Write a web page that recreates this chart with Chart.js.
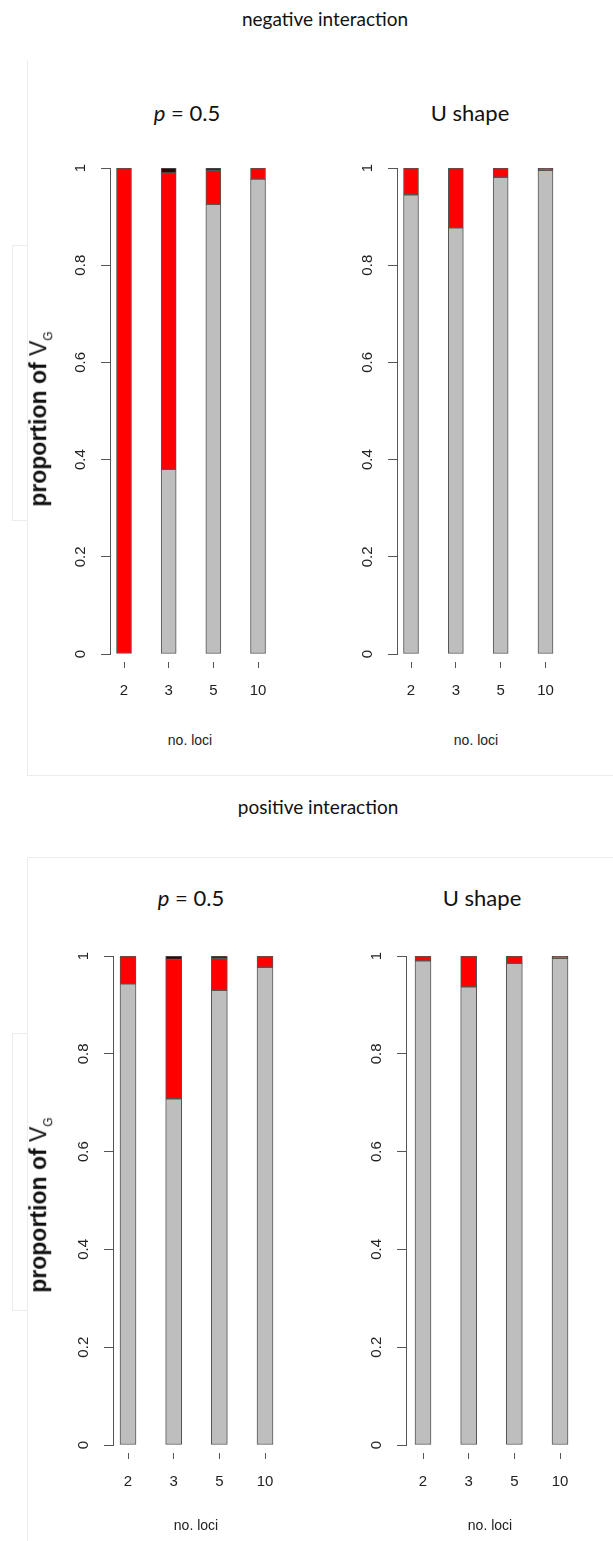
<!DOCTYPE html>
<html><head><meta charset="utf-8">
<script src="https://cdn.jsdelivr.net/npm/chart.js@4/dist/chart.umd.min.js"></script>
<style>
body{margin:0;background:#fff;width:613px;height:1541px;position:relative;overflow:hidden;font-family:"Liberation Sans",Arial,sans-serif}
.t{position:absolute;transform:translate(-50%,-50%);white-space:nowrap;color:#111;z-index:2}
.sec{font-family:Lato,"Open Sans",sans-serif;font-size:19px}
.pt{font-family:Lato,"Open Sans",sans-serif;font-size:22px}
.xl{font-size:14px;color:#222}
.yl{font-family:"Liberation Sans",Arial,sans-serif;font-size:23px;transform:translate(-50%,-50%) rotate(-90deg);color:#111}
.yl b{font-weight:bold}
.yl span{font-weight:normal}
.yl sub{font-size:12px;font-weight:normal}
canvas{position:absolute;z-index:1}
.ln{position:absolute;background:#ececec}
</style></head><body>
<div class="ln" style="left:27px;top:60px;width:1px;height:715px"></div>
<div class="ln" style="left:27px;top:775px;width:586px;height:1px"></div>
<div class="ln" style="left:12px;top:245px;width:1px;height:275px"></div>
<div class="ln" style="left:12px;top:245px;width:15px;height:1px"></div>
<div class="ln" style="left:12px;top:520px;width:15px;height:1px"></div>
<div class="ln" style="left:27px;top:857px;width:586px;height:1px"></div>
<div class="ln" style="left:27px;top:857px;width:1px;height:684px"></div>
<div class="ln" style="left:12px;top:1033px;width:1px;height:277px"></div>
<div class="ln" style="left:12px;top:1033px;width:15px;height:1px"></div>
<div class="ln" style="left:12px;top:1310px;width:15px;height:1px"></div>

<div class="t sec" style="left:325px;top:18px">negative interaction</div>
<div class="t pt" style="left:187px;top:112px"><i>p</i> = 0.5</div>
<div class="t pt" style="left:470px;top:112px">U shape</div>
<div class="t xl" style="left:190px;top:740px">no. loci</div>
<div class="t xl" style="left:476px;top:740px">no. loci</div>
<div class="t yl" style="left:40px;top:419px"><b>proportion of </b><span>V<sub>G</sub></span></div>

<div class="t sec" style="left:318px;top:806px">positive interaction</div>
<div class="t pt" style="left:191px;top:897px"><i>p</i> = 0.5</div>
<div class="t pt" style="left:482px;top:897px">U shape</div>
<div class="t xl" style="left:196px;top:1525px">no. loci</div>
<div class="t xl" style="left:490px;top:1525px">no. loci</div>
<div class="t yl" style="left:40px;top:1205px"><b>proportion of </b><span>V<sub>G</sub></span></div>

<canvas id="c1"></canvas><canvas id="c2"></canvas><canvas id="c3"></canvas><canvas id="c4"></canvas>
<script>
const categories = ['2', '3', '5', '10'];
const yTickValues = [0, 0.2, 0.4, 0.6, 0.8, 1];
const yTickLabels = ['0', '0.2', '0.4', '0.6', '0.8', '1'];

// negative interaction, p = 0.5
const negP05Grey = [0, 0.38, 0.925, 0.977];
const negP05Red  = [1.0, 0.61, 0.070, 0.023];
const negP05Dark = [0, 0.010, 0.005, 0];
// negative interaction, U shape
const negUGrey = [0.945, 0.877, 0.981, 0.995];
const negURed  = [0.055, 0.123, 0.019, 0.003];
const negUDark = [0, 0, 0, 0.002];
// positive interaction, p = 0.5
const posP05Grey = [0.943, 0.708, 0.930, 0.977];
const posP05Red  = [0.057, 0.285, 0.065, 0.023];
const posP05Dark = [0, 0.007, 0.005, 0];
// positive interaction, U shape
const posUGrey = [0.990, 0.937, 0.985, 0.995];
const posURed  = [0.010, 0.063, 0.015, 0.003];
const posUDark = [0, 0, 0, 0.002];

const FONT = '"Liberation Sans", Arial, sans-serif';

const rotYLabels = {
  id: 'rotY',
  afterDraw(chart) {
    const s = chart.scales.y, ctx = chart.ctx;
    ctx.save();
    ctx.font = '15px ' + FONT;
    ctx.fillStyle = '#222';
    ctx.textAlign = 'center';
    ctx.textBaseline = 'middle';
    s.ticks.forEach((t, i) => {
      const y = s.getPixelForValue(t.value);
      ctx.save();
      ctx.translate(s.right - 29, y);
      ctx.rotate(-Math.PI / 2);
      ctx.fillText(yTickLabels[i], 0, 0);
      ctx.restore();
    });
    ctx.restore();
  }
};

function makePanel(id, grey, red, dark, L) {
  const top = L.y1 - 20;
  const h = (L.y0 - L.y1) + 20 + 75;
  const canvas = document.getElementById(id);
  canvas.width = L.width; canvas.height = h;
  canvas.style.left = L.left + 'px'; canvas.style.top = top + 'px';
  canvas.style.width = L.width + 'px'; canvas.style.height = h + 'px';
  const xmin = 1 - (L.c1 - L.axisX) / L.sp;
  const xmax = xmin + L.W / L.sp;
  const yW = L.axisX - L.left;
  const xH = h - (L.y0 - top);
  const pts = arr => arr.map((v, i) => ({ x: i + 1, y: v }));
  new Chart(canvas, {
    type: 'bar',
    data: { datasets: [
      { data: pts(grey), backgroundColor: '#bebebe' },
      { data: pts(red), backgroundColor: '#ff0000' },
      { data: pts(dark), backgroundColor: '#3a0000' }
    ] },
    options: {
      responsive: false, animation: false,
      layout: { padding: { top: 20, left: 0, right: L.width - yW - L.W, bottom: 0 } },
      datasets: { bar: { barThickness: L.bw, borderColor: '#555', borderWidth: 1, borderSkipped: false } },
      plugins: { legend: { display: false }, tooltip: { enabled: false }, title: { display: false } },
      scales: {
        x: {
          type: 'linear', stacked: true, min: xmin, max: xmax, offset: false,
          afterBuildTicks: s => { s.ticks = categories.map((c, i) => ({ value: i + 1 })); },
          afterFit: s => { s.height = xH; },
          ticks: { callback: (v, i) => categories[i], autoSkip: false, maxRotation: 0, minRotation: 0,
                   padding: 14, font: { size: 15, family: FONT }, color: '#222' },
          grid: { offset: false, drawOnChartArea: false, drawTicks: true, tickLength: 14, tickColor: '#555', tickWidth: 1,
                  tickBorderDash: [0, 8, 6, 100] },
          border: { display: false }
        },
        y: {
          stacked: true, min: 0, max: 1,
          afterBuildTicks: s => { s.ticks = yTickValues.map(v => ({ value: v })); },
          afterFit: s => { s.width = yW; },
          ticks: { display: false },
          grid: { drawOnChartArea: false, drawTicks: true, tickLength: 9, tickColor: '#555', tickWidth: 1 },
          border: { display: true, color: '#555', width: 1 }
        }
      }
    },
    plugins: [rotYLabels]
  });
}

makePanel('c1', negP05Grey, negP05Red, negP05Dark, { left: 0, width: 300, axisX: 110, c1: 124, sp: 44.67, y1: 168, y0: 654, bw: 15, W: 165 });
makePanel('c2', negUGrey, negURed, negUDark, { left: 300, width: 313, axisX: 397, c1: 411, sp: 44.83, y1: 168, y0: 654, bw: 15, W: 168 });
makePanel('c3', posP05Grey, posP05Red, posP05Dark, { left: 0, width: 300, axisX: 113, c1: 128, sp: 45.67, y1: 956, y0: 1445, bw: 16, W: 170 });
makePanel('c4', posUGrey, posURed, posUDark, { left: 300, width: 313, axisX: 406, c1: 423, sp: 45.67, y1: 956, y0: 1445, bw: 16, W: 175 });
</script>
</body></html>
